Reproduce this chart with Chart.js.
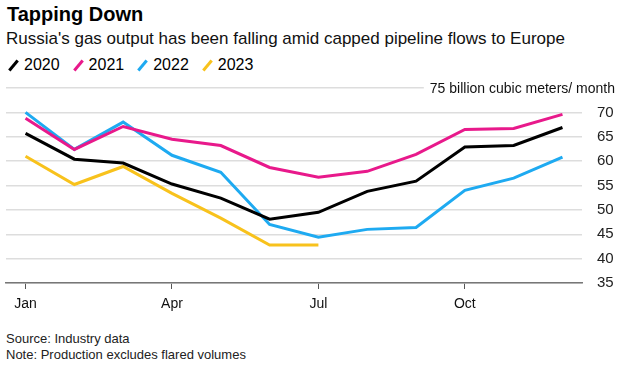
<!DOCTYPE html>
<html>
<head>
<meta charset="utf-8">
<script src="https://cdn.jsdelivr.net/npm/chart.js@4"></script>
<style>
  body { margin:0; width:628px; height:369px; background:#fff; font-family:"Liberation Sans", Arial, sans-serif; color:#000; position:relative; overflow:hidden; }
  #title { position:absolute; left:7px; top:3px; font-size:20px; font-weight:bold; }
  #sub { position:absolute; left:6px; top:29px; font-size:17px; color:#111; }
  #legend { position:absolute; left:7px; top:56px; font-size:16px; }
  #legend span.item { display:inline-block; margin-right:12px; }
  #legend i { display:inline-block; width:3px; height:13px; transform:rotate(40deg); margin:0 9px -2px 5px; }
  #wrap { position:absolute; left:0; top:64px; width:628px; height:254px; }
  #foot { position:absolute; left:6px; top:331px; font-size:13px; color:#222; line-height:16px; }
</style>
</head>
<body>
<div id="title">Tapping Down</div>
<div id="sub">Russia's gas output has been falling amid capped pipeline flows to Europe</div>
<div id="legend"></div>
<div id="wrap"><canvas id="chart1"></canvas></div>
<div id="foot">Source: Industry data<br>Note: Production excludes flared volumes</div>
<script>
// months, values in billion cubic meters per month
var months = ['Jan','Feb','Mar','Apr','May','Jun','Jul','Aug','Sep','Oct','Nov','Dec'];
var y2020 = [65.7, 60.4, 59.6, 55.3, 52.4, 48.1, 49.5, 53.8, 55.9, 62.9, 63.2, 66.9];
var y2021 = [68.8, 62.4, 67.1, 64.5, 63.2, 58.7, 56.7, 57.9, 61.4, 66.5, 66.7, 69.6];
var y2022 = [70.0, 62.4, 68.0, 61.2, 57.7, 47.0, 44.4, 46.0, 46.4, 54.0, 56.5, 60.8];
var y2023 = [61.0, 55.2, 58.9, 53.4, 48.3, 42.8, 42.8];
var yTicks = [35, 40, 45, 50, 55, 60, 65, 70, 75];
var unitLabel = '75 billion cubic meters/ month';

var seriesNames = ['2020', '2021', '2022', '2023'];
var seriesColors = ['#000000', '#e8198b', '#1eaaf1', '#f8c21c'];
var seriesData = [y2020, y2021, y2022, y2023];

var leg = document.getElementById('legend');
seriesNames.forEach(function(n, i){
  leg.innerHTML += '<span class="item"><i style="background:' + seriesColors[i] + '"></i>' + n + '</span>';
});

function toPoints(arr){
  return arr.map(function(v, i){ return {x: i, y: v}; });
}

var datasets = seriesNames.map(function(n, i){
  return {
    label: n,
    data: toPoints(seriesData[i]),
    borderColor: seriesColors[i],
    backgroundColor: seriesColors[i],
    borderWidth: 3,
    pointRadius: 0,
    tension: 0,
    fill: false
  };
});

// draws the unit text in place of the top tick label
var unitPlugin = {
  id: 'unitText',
  afterDraw: function(chart){
    var ctx = chart.ctx;
    var y = chart.scales.y.getPixelForValue(75);
    ctx.save();
    ctx.font = '14px "Liberation Sans", Arial, sans-serif';
    var w = ctx.measureText(unitLabel).width;
    var right = 615;
    ctx.fillStyle = '#fff';
    ctx.fillRect(right - w - 6, y - 9, w + 20, 18);
    ctx.fillStyle = '#111';
    ctx.textAlign = 'right';
    ctx.textBaseline = 'middle';
    ctx.fillText(unitLabel, right, y + 1);
    ctx.restore();
  }
};

var config = {
  type: 'line',
  data: { datasets: datasets },
  options: {
    responsive: true,
    maintainAspectRatio: false,
    animation: false,
    layout: { padding: { left: 6, top: 2, right: 0, bottom: 0 } },
    plugins: { legend: { display: false }, tooltip: { enabled: false } },
    scales: {
      x: {
        type: 'linear',
        min: -0.4,
        max: 11.4,
        afterBuildTicks: function(scale){
          scale.ticks = [0, 3, 6, 9].map(function(v){ return {value: v}; });
        },
        afterFit: function(scale){ scale.height = 35; },
        ticks: {
          callback: function(v){ return months[v]; },
          color: '#111',
          font: { size: 14, family: '"Liberation Sans", Arial, sans-serif' },
          padding: 7,
          maxRotation: 0
        },
        grid: { drawOnChartArea: false, drawTicks: true, tickLength: 6, color: '#555' },
        border: { display: true, color: '#777', width: 1.5 }
      },
      y: {
        position: 'right',
        min: 35,
        max: 75,
        afterBuildTicks: function(scale){
          scale.ticks = yTicks.map(function(v){ return {value: v}; });
        },
        afterFit: function(scale){ scale.width = 46; },
        ticks: {
          callback: function(v){ return v == 75 ? '' : v; },
          color: '#222',
          font: { size: 15, family: '"Liberation Sans", Arial, sans-serif' },
          padding: 15
        },
        grid: { color: '#dddddd', lineWidth: 1.5, drawTicks: false },
        border: { display: false }
      }
    }
  },
  plugins: [unitPlugin]
};

var chart = new Chart(document.getElementById('chart1'), config);
</script>
</body>
</html>
